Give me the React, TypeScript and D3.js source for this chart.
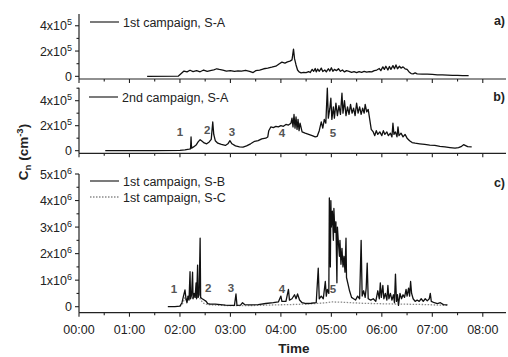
import React from 'react';
import * as d3 from 'd3';

// time in hours after 00:00, concentration in units of 1e5 cm^-3 (panels a, b) or 1e6 cm^-3 (panel c)
const timeTicks = [0, 1, 2, 3, 4, 5, 6, 7, 8];
const timeLabels = ['00:00', '01:00', '02:00', '03:00', '04:00', '05:00', '06:00', '07:00', '08:00'];

const seriesA: [number, number][] = [
  [1.35,0],[1.97,0.02],[2.02,0.2],[2.08,0.42],[2.14,0.35],[2.2,0.48],[2.26,0.38],[2.33,0.45],[2.4,0.36],[2.47,0.5],[2.54,0.4],[2.6,0.46],[2.67,0.52],[2.73,0.6],[2.78,0.55],[2.85,0.5],[2.92,0.42],[3.0,0.46],[3.08,0.4],[3.15,0.44],[3.22,0.42],[3.3,0.48],[3.38,0.4],[3.45,0.3],[3.5,0.45],[3.58,0.5],[3.66,0.6],[3.74,0.65],[3.82,0.72],[3.9,0.8],[3.97,1.0],[4.02,1.12],[4.08,1.05],[4.13,1.15],[4.18,1.2],[4.22,1.3],[4.25,2.15],[4.27,1.4],[4.3,0.9],[4.33,0.5],[4.36,0.35],[4.4,0.28],[4.45,0.32],[4.5,0.3],[4.55,0.38],[4.58,0.3],[4.62,0.55],[4.65,0.4],[4.68,0.62],[4.7,0.35],[4.73,0.58],[4.76,0.4],[4.8,0.65],[4.83,0.38],[4.87,0.5],[4.9,0.35],[4.94,0.6],[4.97,0.42],[5.0,0.68],[5.03,0.4],[5.06,0.55],[5.1,0.45],[5.14,0.6],[5.18,0.4],[5.22,0.5],[5.26,0.35],[5.3,0.45],[5.35,0.4],[5.4,0.32],[5.45,0.38],[5.5,0.3],[5.55,0.38],[5.6,0.32],[5.65,0.4],[5.7,0.33],[5.75,0.38],[5.8,0.35],[5.85,0.45],[5.9,0.5],[5.95,0.62],[5.98,0.45],[6.02,0.75],[6.05,0.55],[6.08,0.8],[6.12,0.5],[6.15,0.78],[6.18,0.55],[6.22,0.85],[6.25,0.6],[6.28,0.9],[6.31,0.6],[6.35,0.8],[6.38,0.65],[6.42,0.75],[6.46,0.6],[6.5,0.55],[6.54,0.35],[6.58,0.22],[6.62,0.2],[6.66,0.28],[6.7,0.2],[6.8,0.18],[6.9,0.17],[7.0,0.15],[7.1,0.12],[7.2,0.12],[7.3,0.1],[7.4,0.08],[7.5,0.07],[7.6,0.06],[7.72,0.05],
];

const seriesB: [number, number][] = [
  [0.52,0],[1.0,0.01],[1.5,0.01],[2.0,0.03],[2.1,0.06],[2.18,0.12],[2.21,0.15],[2.22,1.1],[2.23,0.2],[2.27,0.3],[2.32,0.45],[2.36,0.7],[2.4,0.88],[2.44,0.75],[2.48,0.62],[2.53,0.55],[2.58,0.7],[2.62,0.9],[2.65,2.3],[2.67,1.3],[2.7,0.8],[2.75,0.6],[2.82,0.5],[2.9,0.42],[2.95,0.55],[2.99,0.8],[3.03,0.55],[3.1,0.38],[3.18,0.3],[3.25,0.28],[3.32,0.38],[3.4,0.55],[3.48,0.75],[3.55,0.8],[3.62,0.95],[3.7,1.0],[3.74,1.1],[3.76,1.6],[3.8,1.9],[3.85,1.85],[3.9,1.95],[3.95,1.9],[4.0,2.0],[4.05,1.95],[4.1,2.1],[4.15,2.05],[4.2,2.2],[4.22,2.6],[4.24,1.9],[4.26,2.9],[4.28,1.8],[4.3,2.7],[4.32,1.7],[4.34,2.5],[4.36,1.6],[4.38,2.2],[4.42,1.5],[4.48,1.4],[4.55,1.3],[4.62,1.2],[4.68,1.1],[4.72,1.15],[4.76,1.6],[4.8,2.3],[4.83,1.8],[4.86,2.5],[4.89,2.2],[4.92,5.0],[4.94,2.6],[4.97,3.4],[4.99,4.2],[5.01,2.5],[5.04,3.5],[5.06,2.6],[5.09,3.8],[5.12,2.8],[5.15,3.6],[5.18,2.9],[5.21,4.6],[5.23,3.0],[5.26,4.0],[5.29,2.8],[5.32,3.5],[5.35,2.9],[5.38,3.7],[5.41,3.0],[5.44,3.4],[5.47,2.8],[5.5,3.8],[5.53,3.0],[5.56,3.5],[5.59,2.9],[5.62,3.4],[5.65,3.0],[5.67,3.7],[5.7,3.1],[5.73,3.3],[5.76,2.5],[5.79,1.7],[5.83,1.5],[5.86,1.2],[5.89,1.6],[5.92,1.3],[5.96,1.5],[6.0,1.2],[6.03,1.6],[6.06,1.3],[6.1,1.5],[6.13,1.2],[6.17,1.4],[6.2,1.1],[6.22,2.2],[6.24,1.3],[6.27,1.5],[6.3,1.1],[6.32,1.9],[6.34,1.2],[6.38,1.4],[6.42,1.1],[6.46,1.3],[6.5,1.0],[6.55,0.8],[6.6,0.65],[6.66,0.6],[6.75,0.55],[6.85,0.5],[6.95,0.45],[7.05,0.42],[7.15,0.35],[7.25,0.3],[7.35,0.25],[7.45,0.2],[7.52,0.25],[7.58,0.35],[7.62,0.48],[7.66,0.4],[7.7,0.32],[7.78,0.3],
];

const seriesSB: [number, number][] = [
  [1.76,0],[1.9,0],[2.0,0.02],[2.04,0.15],[2.07,0.4],[2.1,0.63],[2.12,0.3],[2.14,0.15],[2.16,0.4],[2.18,0.25],[2.2,1.32],[2.21,0.3],[2.23,0.45],[2.25,1.3],[2.26,0.3],[2.28,0.5],[2.3,0.35],[2.32,0.9],[2.33,0.3],[2.35,1.57],[2.36,0.35],[2.38,0.45],[2.4,2.58],[2.41,0.35],[2.44,0.3],[2.48,0.25],[2.52,0.2],[2.55,0.12],[2.6,0.1],[2.7,0.1],[2.8,0.08],[2.9,0.06],[3.0,0.05],[3.08,0.05],[3.11,0.48],[3.13,0.05],[3.2,0.06],[3.24,0.15],[3.28,0.08],[3.4,0.07],[3.55,0.08],[3.7,0.12],[3.85,0.15],[3.95,0.18],[4.0,0.4],[4.02,0.2],[4.1,0.2],[4.15,0.65],[4.17,0.25],[4.22,0.3],[4.27,0.45],[4.3,0.3],[4.33,0.48],[4.37,0.25],[4.42,0.15],[4.5,0.12],[4.6,0.13],[4.7,0.15],[4.74,1.45],[4.76,0.3],[4.8,0.4],[4.84,0.3],[4.88,0.95],[4.9,0.4],[4.92,0.65],[4.95,0.5],[4.96,4.1],[4.98,1.5],[4.99,4.0],[5.0,3.0],[5.02,3.6],[5.04,2.5],[5.05,3.7],[5.07,2.8],[5.09,3.2],[5.11,0.9],[5.12,3.0],[5.14,2.4],[5.16,1.9],[5.17,2.5],[5.19,1.6],[5.21,2.2],[5.23,1.5],[5.25,1.9],[5.27,1.3],[5.29,2.58],[5.3,1.1],[5.33,0.85],[5.36,0.6],[5.4,0.35],[5.44,0.3],[5.48,0.25],[5.52,0.4],[5.56,0.3],[5.59,2.5],[5.61,0.4],[5.64,0.6],[5.67,0.35],[5.69,0.7],[5.71,1.64],[5.73,0.3],[5.78,0.25],[5.83,0.3],[5.88,0.2],[5.92,0.6],[5.95,0.3],[5.97,0.9],[5.99,0.35],[6.02,0.8],[6.04,0.3],[6.07,0.5],[6.1,0.25],[6.12,0.8],[6.14,0.3],[6.17,0.5],[6.2,0.25],[6.23,0.45],[6.25,0.15],[6.27,1.23],[6.29,0.2],[6.31,0.45],[6.33,0.05],[6.36,0.5],[6.39,0.3],[6.42,0.45],[6.45,0.35],[6.48,0.65],[6.5,0.4],[6.53,0.7],[6.55,0.4],[6.57,0.95],[6.59,0.5],[6.62,0.3],[6.66,0.2],[6.7,0.25],[6.74,0.2],[6.78,0.3],[6.82,0.2],[6.86,0.3],[6.9,0.22],[6.94,0.3],[6.96,0.5],[6.98,0.2],[7.04,0.15],[7.1,0.12],[7.16,0.15],[7.22,0.08],[7.3,0.07],
];

const seriesSC: [number, number][] = [
  [2.0,0.02],[2.05,0.1],[2.1,0.35],[2.13,0.22],[2.16,0.38],[2.2,0.3],[2.23,0.42],[2.26,0.3],[2.3,0.4],[2.33,0.32],[2.36,0.38],[2.4,0.3],[2.45,0.15],[2.5,0.1],[2.6,0.07],[2.8,0.05],[3.0,0.04],[3.3,0.04],[3.6,0.05],[3.9,0.07],[4.2,0.08],[4.5,0.1],[4.7,0.12],[4.9,0.15],[5.0,0.18],[5.2,0.17],[5.4,0.15],[5.6,0.13],[5.8,0.12],[6.0,0.11],[6.3,0.1],[6.6,0.09],[6.9,0.08],[7.1,0.06],[7.3,0.05],
];

const marksB: { label: string; t: number; v: number }[] = [
  { label: '1', t: 2.0, v: 1.2 }, { label: '2', t: 2.54, v: 1.35 }, { label: '3', t: 3.03, v: 1.2 },
  { label: '4', t: 4.02, v: 1.1 }, { label: '5', t: 5.03, v: 1.1 },
];
const marksC: { label: string; t: number; v: number }[] = [
  { label: '1', t: 1.88, v: 0.52 }, { label: '2', t: 2.56, v: 0.55 }, { label: '3', t: 3.01, v: 0.55 },
  { label: '4', t: 4.02, v: 0.53 }, { label: '5', t: 5.03, v: 0.53 },
];

const FONT = 'Liberation Sans, Arial, sans-serif';
const x = d3.scaleLinear().domain([0, 8.46]).range([79, 506]);
const halfHours = d3.range(0, 8.5, 0.5);

type Panel = {
  key: string;
  y: d3.ScaleLinear<number, number>;
  major: number[];
  minor: number[];
  exp: string;
  tag: string;
  tagY: number;
};

const panels: Panel[] = [
  { key: 'a', y: d3.scaleLinear().domain([-0.21, 4.93]).range([79, 14]), major: [0, 2, 4], minor: [1, 3], exp: '5', tag: 'a)', tagY: 25 },
  { key: 'b', y: d3.scaleLinear().domain([-0.21, 5.04]).range([153.3, 87.7]), major: [0, 2, 4], minor: [1, 3, 5], exp: '5', tag: 'b)', tagY: 101 },
  { key: 'c', y: d3.scaleLinear().domain([-0.226, 5]).range([312.7, 174]), major: [0, 1, 2, 3, 4, 5], minor: [0.5, 1.5, 2.5, 3.5, 4.5], exp: '6', tag: 'c)', tagY: 187 },
];

function Axes({ p, labels }: { p: Panel; labels: boolean }) {
  const [y0, y1] = p.y.range();
  return (
    <g>
      <line x1={79} x2={506} y1={y0} y2={y0} stroke="#222" strokeWidth={1.2} />
      <line x1={79} x2={79} y1={y0} y2={y1} stroke="#222" strokeWidth={1.2} />
      {halfHours.map((h) => (
        <line key={h} x1={x(h)} x2={x(h)} y1={y0} y2={y0 + (h % 1 === 0 ? 4 : 2.5)} stroke="#222" strokeWidth={1.1} />
      ))}
      {p.major.map((v) => (
        <g key={v}>
          <line x1={75} x2={79} y1={p.y(v)} y2={p.y(v)} stroke="#222" strokeWidth={1.1} />
          <text x={72} y={p.y(v) + 4.5} textAnchor="end" fontSize={12.5} fontFamily={FONT} fill="#222">
            {v === 0 ? '0' : (
              <>
                {v}x10<tspan dy={-5} fontSize={9}>{p.exp}</tspan>
              </>
            )}
          </text>
        </g>
      ))}
      {p.minor.map((v) => (
        <line key={v} x1={76.5} x2={79} y1={p.y(v)} y2={p.y(v)} stroke="#222" strokeWidth={1.1} />
      ))}
      {labels && timeTicks.map((h, i) => (
        <text key={h} x={x(h)} y={y0 + 21} textAnchor="middle" fontSize={12.5} fontFamily={FONT} fill="#222">{timeLabels[i]}</text>
      ))}
      <text x={505} y={p.tagY} textAnchor="end" fontSize={12.5} fontWeight="bold" fontFamily={FONT} fill="#222">{p.tag}</text>
    </g>
  );
}

function Series({ data, y, dotted }: { data: [number, number][]; y: d3.ScaleLinear<number, number>; dotted?: boolean }) {
  const line = d3.line<[number, number]>().x((d) => x(d[0])).y((d) => y(d[1]));
  return (
    <path d={line(data) || ''} fill="none" stroke={dotted ? '#8a8a8a' : '#111'} strokeWidth={dotted ? 1.3 : 1.3}
      strokeDasharray={dotted ? '1.5,1.5' : undefined} strokeLinejoin="round" />
  );
}

function Marks({ marks, y }: { marks: { label: string; t: number; v: number }[]; y: d3.ScaleLinear<number, number> }) {
  return (
    <g>
      {marks.map((m) => (
        <text key={m.label} x={x(m.t)} y={y(m.v)} textAnchor="middle" fontSize={11.5} fontWeight="bold" fontFamily={FONT} fill="#555">{m.label}</text>
      ))}
    </g>
  );
}

function Legend({ x0, y0, text, dotted }: { x0: number; y0: number; text: string; dotted?: boolean }) {
  return (
    <g>
      <line x1={x0} x2={x0 + 29} y1={y0} y2={y0} stroke={dotted ? '#8a8a8a' : '#333'} strokeWidth={1.3} strokeDasharray={dotted ? '1.5,1.5' : undefined} />
      <text x={x0 + 33} y={y0 + 4.5} fontSize={12.5} fontFamily={FONT} fill="#222">{text}</text>
    </g>
  );
}

export default function App() {
  const [pa, pb, pc] = panels;
  return (
    <svg width={508} height={357} style={{ position: 'absolute', left: 0, top: 0, background: '#fff' }}>
      <rect width={508} height={357} fill="#fff" />
      <Axes p={pa} labels={false} />
      <Axes p={pb} labels={false} />
      <Axes p={pc} labels={true} />
      <Series data={seriesA} y={pa.y} />
      <Series data={seriesB} y={pb.y} />
      <Series data={seriesSC} y={pc.y} dotted />
      <Series data={seriesSB} y={pc.y} />
      <Marks marks={marksB} y={pb.y} />
      <Marks marks={marksC} y={pc.y} />
      <Legend x0={90} y0={22} text="1st campaign, S-A" />
      <Legend x0={89} y0={97} text="2nd campaign, S-A" />
      <Legend x0={90} y0={181} text="1st campaign, S-B" />
      <Legend x0={90} y0={197} text="1st campaign, S-C" dotted />
      <text transform="translate(28,152) rotate(-90)" textAnchor="middle" fontSize={13.5} fontWeight="bold" fontFamily={FONT} fill="#222">
        C<tspan dy={3} fontSize={9.5}>n</tspan><tspan dy={-3}> (cm</tspan><tspan dy={-5} fontSize={9.5}>-3</tspan><tspan dy={5}>)</tspan>
      </text>
      <text x={294} y={353} textAnchor="middle" fontSize={13.5} fontWeight="bold" fontFamily={FONT} fill="#222">Time</text>
    </svg>
  );
}
